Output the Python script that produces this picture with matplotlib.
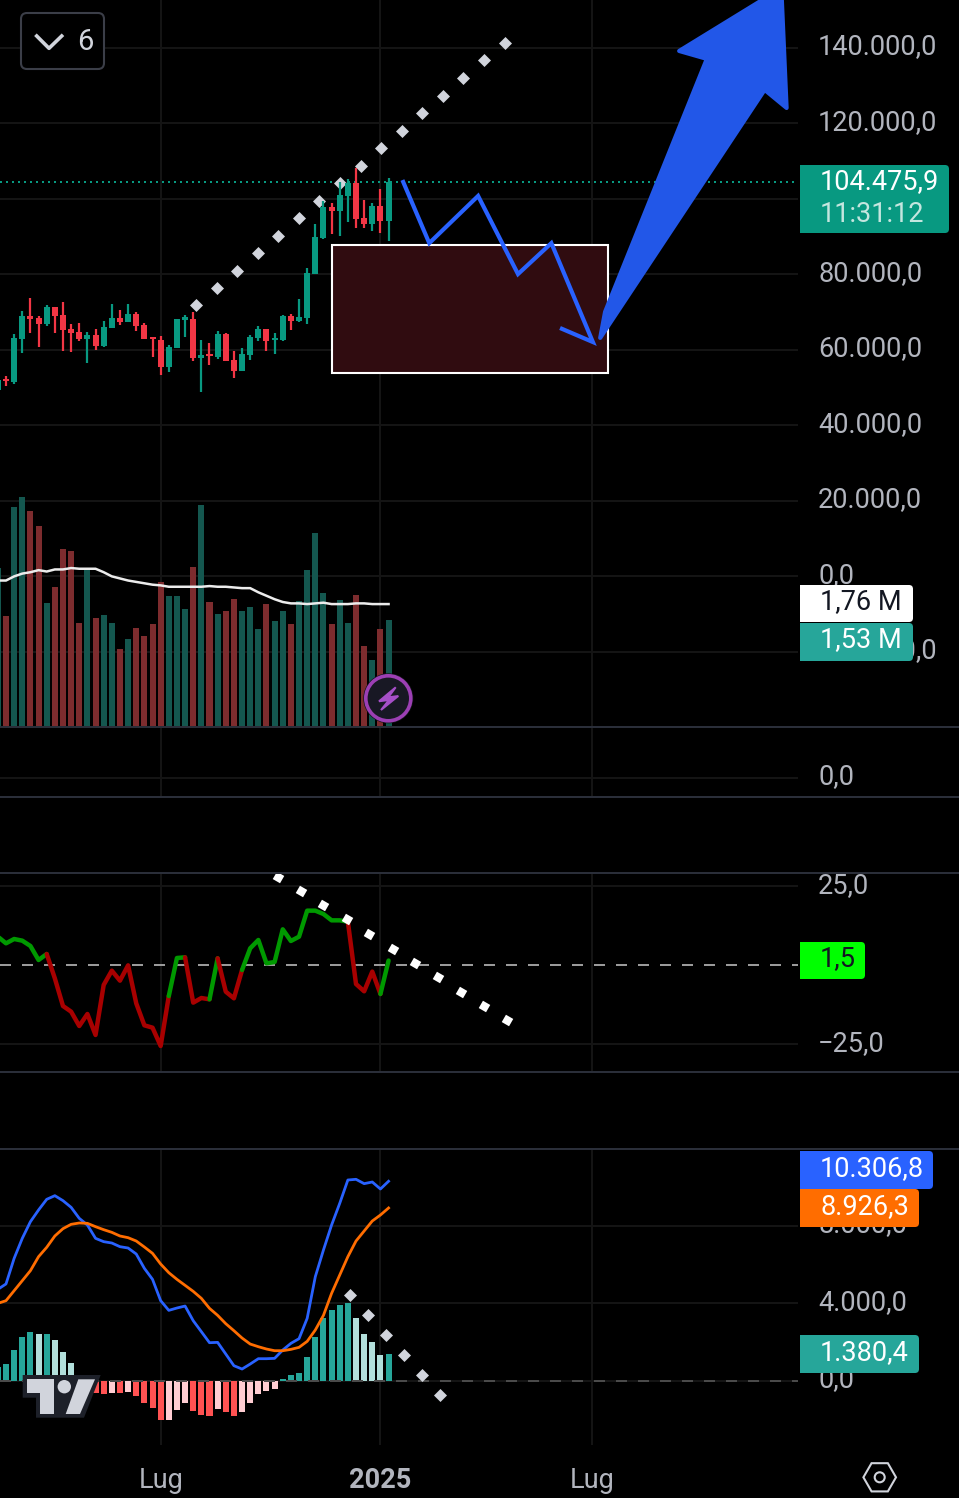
import numpy as np
import matplotlib
matplotlib.use("Agg")
import matplotlib.pyplot as plt
from matplotlib.patches import Rectangle, FancyBboxPatch, Polygon, Circle, RegularPolygon
from matplotlib.transforms import ScaledTranslation

plt.rcParams["font.family"] = ["Roboto", "DejaVu Sans"]

W, H = 959, 1498
CHART_R = 798
GRID = "#141414"
TXT = "#b2b5be"
UP = "#089981"
DOWN = "#f23645"
FS = 19.5

# weekly candles, prices in thousands
weeks = np.arange(-1, 48)
opens = [49.4, 52.2, 51.5, 62.9, 69.0, 68.5, 66.9, 71.4, 69.3, 65.6, 64.8, 62.9, 64.0, 61.0, 65.8, 68.5, 67.4,
         69.5, 66.6, 63.4, 62.6, 55.5, 60.5, 68.0, 68.2, 57.9, 58.9, 58.2, 64.2, 57.4, 54.4, 58.7, 63.2, 65.6,
         62.6, 62.6, 69.0, 67.7, 68.5, 80.1, 89.7, 97.9, 96.8, 100.8, 104.2, 95.0, 93.4, 98.1, 94.2]
highs = [52.6, 53.1, 64.2, 70.3, 73.8, 69.0, 71.9, 71.4, 72.7, 66.9, 67.1, 64.8, 65.6, 67.7, 72.2, 70.6, 72.2,
         70.1, 67.1, 63.4, 63.7, 61.3, 68.2, 69.3, 70.1, 62.6, 61.9, 65.0, 64.5, 59.7, 60.5, 64.0, 66.4, 65.6,
         64.5, 69.3, 69.5, 73.5, 81.7, 93.4, 99.5, 98.9, 104.5, 105.3, 108.2, 99.7, 98.9, 102.6, 105.6]
lows = [48.1, 50.5, 51.0, 59.2, 64.5, 60.8, 66.4, 64.5, 59.7, 59.5, 62.4, 56.6, 60.0, 60.8, 65.8, 66.6, 67.4,
        65.0, 62.9, 58.2, 53.4, 54.2, 60.5, 63.4, 57.1, 48.9, 56.0, 57.6, 57.1, 52.6, 54.4, 57.4, 62.4, 59.7,
        58.9, 62.4, 65.3, 67.4, 66.9, 80.1, 89.4, 90.7, 90.2, 93.9, 92.3, 92.3, 91.5, 91.0, 88.9]
closes = [52.1, 51.7, 63.2, 69.0, 68.2, 66.9, 71.4, 69.0, 65.3, 64.5, 62.9, 64.0, 61.0, 66.1, 68.5, 67.4, 69.5,
          66.4, 62.9, 63.0, 55.5, 60.8, 68.2, 68.6, 57.9, 58.7, 58.5, 64.2, 57.1, 54.4, 58.9, 63.4, 65.6, 62.4,
          63.2, 69.0, 67.7, 68.7, 80.4, 89.9, 97.9, 96.8, 101.1, 104.2, 94.7, 93.4, 98.1, 94.2, 104.5]
last_price = 104475.9

# volume in millions
volume = [2.28, 1.59, 3.16, 3.30, 3.10, 2.89, 1.77, 2.01, 2.55, 2.53, 1.49, 2.25, 1.56, 1.60, 1.49, 1.11, 1.26,
          1.41, 1.30, 1.47, 2.08, 1.88, 1.88, 1.69, 2.29, 3.19, 1.79, 1.62, 1.66, 1.83, 1.66, 1.72, 1.40, 1.76,
          1.52, 1.66, 1.47, 1.80, 2.25, 2.78, 1.92, 1.47, 1.82, 1.49, 1.89, 1.15, 0.95, 1.40, 1.53]
vol_ma = [2.10, 2.10, 2.16, 2.20, 2.22, 2.25, 2.23, 2.26, 2.26, 2.28, 2.27, 2.27, 2.27, 2.22, 2.16, 2.13, 2.10,
          2.08, 2.06, 2.04, 2.03, 2.01, 2.01, 2.01, 2.01, 2.01, 2.02, 2.01, 2.01, 2.00, 1.99, 1.99, 1.93, 1.88,
          1.83, 1.79, 1.77, 1.77, 1.76, 1.77, 1.78, 1.76, 1.76, 1.76, 1.77, 1.77, 1.76, 1.76, 1.76]

osc = [9.04, 6.94, 8.31, 7.78, 6.10, 1.67, 3.57, -4.12, -12.85, -14.64, -19.17, -15.38, -22.01, -6.22, -1.69,
       -4.85, -0.01, -12.01, -18.96, -19.70, -25.49, -9.70, 2.31, 2.52, -11.80, -10.33, -10.75, 2.20, -8.33,
       -10.43, -1.48, 5.36, 7.99, 0.62, 1.04, 11.36, 7.68, 9.04, 17.26, 17.26, 16.20, 14.20, 14.20, 13.78,
       -5.91, -8.22, -1.99, -9.06, 1.5]
# (from week, to week, colour)
osc_runs = [(-1, 5, "#009900"), (5, 20, "#a80000"), (20, 22, "#009900"), (22, 25, "#a80000"), (25, 26, "#009900"),
            (26, 29, "#a80000"), (29, 42, "#009900"), (42, 46, "#a80000"), (46, 47, "#009900")]

macd = [4721, 5000, 6323, 7357, 8218, 8822, 9373, 9562, 9304, 8959, 8391, 8046, 7357, 7185, 7116, 6926, 6857,
        6547, 5806, 5238, 4135, 3635, 3756, 3859, 3101, 2533, 1964, 1981, 1378, 775, 603, 861, 1137, 1137,
        1154, 1585, 1929, 2171, 3222, 5376, 6754, 8046, 9166, 10372, 10407, 10183, 10269, 9907, 10306.8]
signal = [3997, 4135, 4652, 5169, 5686, 6409, 6892, 7478, 7857, 8081, 8150, 8132, 7960, 7805, 7667, 7478, 7391,
          7219, 6909, 6582, 6030, 5582, 5238, 4928, 4617, 4256, 3739, 3377, 2946, 2584, 2205, 1895, 1757, 1637,
          1550, 1550, 1619, 1723, 2033, 2619, 3377, 4514, 5462, 6409, 7219, 7736, 8253, 8563, 8926.3]
hist = [724, 862, 1585, 2257, 2516, 2412, 2430, 2102, 1482, 913, 293, -86, -620, -689, -620, -638, -569, -793,
        -1154, -1413, -2016, -2016, -1516, -1154, -1568, -1775, -1826, -1465, -1620, -1826, -1620, -1154, -689,
        -534, -430, 86, 293, 396, 1223, 2257, 3239, 3653, 3911, 4015, 3239, 2412, 1999, 1327, 1380.4]

# drawings on the chart
price_dots_x = [23.4, 25.9, 28.4, 31.0, 33.45, 36.0, 38.5, 41.0, 43.6, 46.1, 48.65, 51.1, 53.7, 56.1, 58.7, 61.3]
price_dots_y = [71.9, 76.4, 81.0, 85.6, 90.3, 94.9, 99.5, 104.3, 108.8, 113.5, 118.0, 122.8, 127.3, 132.0, 136.8, 141.3]
path_x = [48.8, 52.0, 58.0, 62.9, 67.0, 72.1, 68.3]
path_y = [104.5, 88.3, 100.8, 80.1, 88.3, 62.1, 65.6]
arrow_x = [73.0, 93.2, 95.9, 95.3, 92.9, 82.7, 86.1, 73.6]
arrow_y = [63.2, 128.9, 124.1, 153.5, 152.7, 139.2, 137.1, 70.1]
box_x = [40.0, 74.0]
box_y = [53.9, 87.8]
osc_dots_x = [33.45, 36.2, 39.0, 41.9, 44.6, 47.5, 50.25, 53.1, 55.9, 58.7, 61.5]
osc_dots_y = [27.78, 23.36, 18.94, 14.52, 9.89, 5.25, 0.83, -3.8, -8.33, -12.75, -17.38]
macd_dots_x = [42.3, 44.5, 46.7, 48.9, 51.15, 53.35]
macd_dots_y = [4446, 3411, 2378, 1344, 293, -741]

x_ticks = [19, 46, 72]
x_labels = ["Lug", "2025", "Lug"]
price_ticks = [140000, 120000, 100000, 80000, 60000, 40000, 20000, 0, -20000]
osc_ticks = [25, -25]
macd_ticks = [8000, 4000, 0]


def fmt(v):
    s = f"{abs(v):,.1f}".replace(",", "X").replace(".", ",").replace("X", ".")
    return ("\u2212" if v < 0 else "") + s


def add_pane(top, bottom, ylim, yticks, zorder=1):
    ax = fig.add_axes([0, 1 - bottom / H, CHART_R / W, (bottom - top) / H], zorder=zorder)
    ax.set_facecolor("none")
    ax.set_xlim(-0.737, 97.3)
    ax.set_ylim(*ylim)
    for s in ax.spines.values():
        s.set_visible(False)
    ax.yaxis.tick_right()
    ax.set_yticks(yticks)
    ax.set_yticklabels([fmt(v) for v in yticks])
    ax.set_xticks(x_ticks)
    ax.set_xticklabels([])
    ax.tick_params(length=0, labelsize=FS, labelcolor=TXT)
    ax.tick_params(axis="y", pad=14.5)
    # labels sit a little above their grid line
    for lab in ax.get_yticklabels():
        lab.set_transform(lab.get_transform() + ScaledTranslation(0, 4 / 100, fig.dpi_scale_trans))
    ax.grid(True, color=GRID, lw=1.44, zorder=0)
    ax.set_axisbelow(True)
    return ax


fig = plt.figure(figsize=(W / 100, H / 100), dpi=100, facecolor="black")

opens = np.array(opens) * 1000
highs = np.array(highs) * 1000
lows = np.array(lows) * 1000
closes = np.array(closes) * 1000
colors = [UP if c >= o else DOWN for o, c in zip(opens, closes)]

# volume sits over the grid of the price pane
ax_vol = fig.add_axes([0, 1 - 727 / H, CHART_R / W, 727 / H], zorder=3)
ax_vol.set_facecolor("none")
ax_vol.axis("off")
ax_vol.set_xlim(-0.737, 97.3)
ax_vol.set_ylim(-0.0144, 10.48)
vol_colors = ["#14574f" if c == UP else "#7d2c2e" for c in colors]
ax_vol.bar(weeks, volume, width=0.74, color=vol_colors)
ax_vol.plot(weeks, vol_ma, color="#ececec", lw=1.8)

# price pane
ax = add_pane(0, 727, (-39870, 152700), price_ticks, zorder=2)
ax.vlines(weeks, lows, highs, color=colors, lw=1.6, zorder=3)
ax.bar(weeks, np.abs(closes - opens), bottom=np.minimum(opens, closes), width=0.74, color=colors, zorder=3)
ax.axhline(last_price, color=UP, lw=1.44, ls=(0, (1, 2)), zorder=2)
ax.add_patch(Rectangle((box_x[0], box_y[0] * 1000), box_x[1] - box_x[0], (box_y[1] - box_y[0]) * 1000,
                       facecolor="#300c10", edgecolor="white", lw=1.5, zorder=1.5))
ax.scatter(price_dots_x, np.array(price_dots_y) * 1000, marker="D", s=44, color="#d1d4dc", lw=0, zorder=2.5)
ax.add_patch(Polygon(np.column_stack([arrow_x, np.array(arrow_y) * 1000]), closed=True, facecolor="#2257e8",
                     edgecolor="#2257e8", lw=3, joinstyle="round", zorder=4))
ax.plot(path_x, np.array(path_y) * 1000, color="#2962ff", lw=3, zorder=5, solid_joinstyle="miter")

# empty pane
ax_empty = add_pane(727, 797, (-19, 51), [0])

# oscillator pane
ax_osc = add_pane(873, 1072, (-33.7, 29.15), osc_ticks)
ax_osc.axhline(0, color="#9a9a9a", lw=1.44, ls=(0, (5.5, 5.5)), zorder=1)
osc = np.array(osc)
for start, end, col in osc_runs:
    keep = (weeks >= start) & (weeks <= end)
    ax_osc.plot(weeks[keep], osc[keep], color=col, lw=3.2, solid_capstyle="round", zorder=3)
ax_osc.scatter(osc_dots_x, osc_dots_y, marker=(4, 0, 15), s=74, color="white", lw=0, zorder=4)

# macd pane
ax_macd = add_pane(1149, 1445, (-3323, 11974), macd_ticks)
hist = np.array(hist)
hist_colors = []
for i, v in enumerate(hist):
    rising = i == 0 or v >= hist[i - 1]
    if v >= 0:
        hist_colors.append("#26a69a" if rising else "#b2dfdb")
    else:
        hist_colors.append("#ffcdd2" if rising else "#ff5252")
ax_macd.bar(weeks, hist, width=0.74, color=hist_colors, zorder=2)
ax_macd.axhline(0, color="#4a4a4a", lw=1.44, ls=(0, (5.5, 5.5)), zorder=3)
ax_macd.plot(weeks, macd, color="#2962ff", lw=2, zorder=4)
ax_macd.plot(weeks, signal, color="#ff6d00", lw=2, zorder=4)
ax_macd.scatter(macd_dots_x, macd_dots_y, marker="D", s=44, color="#d1d4dc", lw=0, zorder=5)
ax_macd.set_xticklabels(x_labels)
ax_macd.tick_params(axis="x", pad=15.5)
ax_macd.get_xticklabels()[1].set_fontweight("bold")

# overlay in pixels for the app's own chrome
ov = fig.add_axes([0, 0, 1, 1], zorder=10)
ov.set_xlim(0, W)
ov.set_ylim(H, 0)
ov.axis("off")
ov.patch.set_visible(False)

for y in [727, 797, 873, 1072, 1149]:
    ov.plot([0, W], [y, y], color="#2a2e39", lw=1.44)


def badge(x1, y0, y1, color):
    ov.add_patch(FancyBboxPatch((803, y0 + 3), x1 - 806, y1 - y0 - 6, boxstyle="round,pad=3,rounding_size=4",
                                facecolor=color, edgecolor="none"))
    ov.add_patch(Rectangle((800, y0), 8, y1 - y0, facecolor=color, edgecolor="none"))


badge(949, 165, 233, "#089981")
ov.text(820, 182, "104.475,9", color="white", fontsize=FS, va="center")
ov.text(820, 214, "11:31:12", color="#c4e6df", fontsize=FS, va="center")
badge(913, 585, 622, "white")
ov.text(820, 602, "1,76 M", color="#131722", fontsize=FS, va="center")
badge(913, 623, 661, "#26a69a")
ov.text(820, 640, "1,53 M", color="white", fontsize=FS, va="center")
badge(865, 942, 979, "#00ff00")
ov.text(820, 959, "1,5", color="#131722", fontsize=FS, va="center")
badge(933, 1151, 1189, "#2962ff")
ov.text(820, 1169, "10.306,8", color="white", fontsize=FS, va="center")
badge(919, 1189, 1227, "#ff6d00")
ov.text(820, 1207, "8.926,3", color="white", fontsize=FS, va="center")
badge(919, 1335, 1373, "#26a69a")
ov.text(820, 1353, "1.380,4", color="white", fontsize=FS, va="center")

# collapse button
ov.add_patch(FancyBboxPatch((26, 18), 73, 46, boxstyle="round,pad=5,rounding_size=6",
                            facecolor="black", edgecolor="#3b3e48", lw=1.5))
ov.plot([36.7, 49, 61.7], [36, 48.3, 36], color="#d1d4dc", lw=2.6)
ov.text(85, 42, "6", color="#d1d4dc", fontsize=21, ha="center", va="center")

# lightning badge
ov.add_patch(Circle((388.3, 698.3), 25, facecolor="#14141c", edgecolor="none"))
ov.add_patch(Circle((388.3, 698.3), 22.5, facecolor="#181824", edgecolor="#9c3fb4", lw=2.6))
ov.add_patch(Polygon([(395.7, 687.3), (379, 701.3), (389, 700), (381, 710), (398.3, 696), (388.3, 697.3)],
                     closed=True, facecolor="#a64fc8", edgecolor="#a64fc8", lw=1.4))

# logo
ov.add_patch(Polygon([(22.7, 1375), (100.7, 1375), (84, 1417.7), (36, 1417.7), (36, 1397.7), (22.7, 1397.7)],
                     closed=True, facecolor="#1d2029", edgecolor="none"))
ov.add_patch(Polygon([(26.7, 1379.3), (54, 1379.3), (54, 1414), (40, 1414), (40, 1393.3), (26.7, 1393.3)],
                     closed=True, facecolor="#d1d4dc", edgecolor="none"))
ov.add_patch(Circle((64.3, 1386.7), 6.7, facecolor="#d1d4dc", edgecolor="none"))
ov.add_patch(Polygon([(78.3, 1379.3), (95, 1379.3), (80, 1414), (65.7, 1414)],
                     closed=True, facecolor="#d1d4dc", edgecolor="none"))

# settings icon
ov.add_patch(RegularPolygon((879.7, 1477.3), 6, radius=16.3, orientation=np.pi / 6, facecolor="none",
                            edgecolor="#d1d4dc", lw=1.5))
ov.add_patch(Circle((879.7, 1477.3), 5, facecolor="none", edgecolor="#d1d4dc", lw=1.5))

fig.savefig("out.png", dpi=100, facecolor="black")
